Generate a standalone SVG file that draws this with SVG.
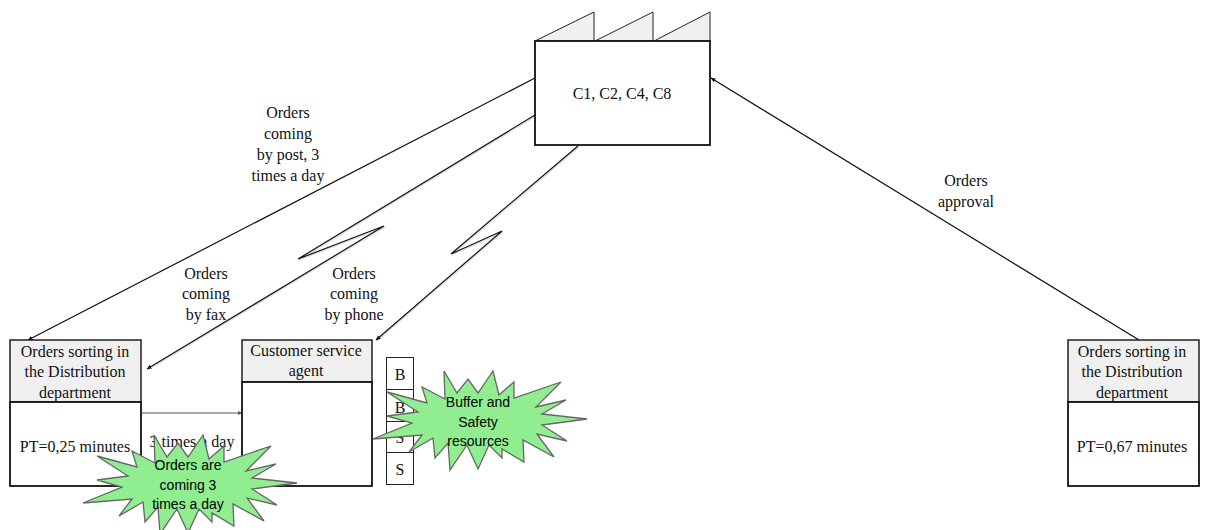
<svg xmlns="http://www.w3.org/2000/svg" width="1205" height="530" viewBox="0 0 1205 530">
<style>
text{font-family:"Liberation Serif","Times New Roman",serif;font-size:16px;fill:#111;text-anchor:middle}
.h{fill:#f0f0f0;stroke:#111;stroke-width:1.4}
.b{fill:#fff;stroke:#111;stroke-width:1.8}
.k{fill:#fff;stroke:#222;stroke-width:1}
.t{fill:#f0f0f0;stroke:#222;stroke-width:1}
.c{fill:none;stroke:#111;stroke-width:1.2;marker-end:url(#a)}
.s{fill:none;stroke:#ddd;stroke-width:1.2}
.g{fill:none;stroke:#555;stroke-width:1;marker-end:url(#a2)}
.st{fill:#90ee90;stroke:#666;stroke-width:1.3}
.n{font-family:"Liberation Sans",Arial,sans-serif;font-size:14px;fill:#000}
</style>
<defs>
<marker id="a" markerWidth="6" markerHeight="6" refX="4.500" refY="2.200" orient="auto" markerUnits="userSpaceOnUse"><path d="M0 0L4.500 2.200L0 4.400z" fill="#111"/></marker>
<marker id="a2" markerWidth="6" markerHeight="6" refX="4.500" refY="2.200" orient="auto" markerUnits="userSpaceOnUse"><path d="M0 0L4.500 2.200L0 4.400z" fill="#555"/></marker>
<polygon id="star" points="387,392 427,403 422,387 445,399 444,371 457,393 468,379 478,393 493,371 499,395 514,382 514,398 561,382 536,407 566,400 542,414 587,419 542,425 567,441 537,434 554,457 523,440 524,462 502,449 502,458 489,445 478,469 467,445 450,470 448,443 435,458 433,438 409,452 422,435 373,439 412,423 387,416 418,412"/>
</defs>
<g id="connectors">
<path class="s" d="M536 116L299 260L385 227L148 370"/>
<path class="s" d="M579 147L452 255L503 232L377 341"/>
<path class="c" d="M535 78L28 340"/>
<path class="c" d="M535 115L298 259L384 226L147 369"/>
<path class="c" d="M578 146L451 254L502 231L376 340"/>
<path class="c" d="M1139 340L711 78"/>
<path class="g" d="M142 413L242 413"/>
</g>
<g id="factory">
<path class="t" d="M535 41L594 12V41Z"/>
<path class="t" d="M595 41L653 12V41Z"/>
<path class="t" d="M654 41L710 12V41Z"/>
<rect class="b" x="535" y="41" width="175" height="104"/>
<text x="622" y="99">C1, C2, C4, C8</text>
</g>
<g id="label-post"><text x="288" y="118">Orders</text><text x="288" y="139">coming</text><text x="288" y="160">by post, 3</text><text x="288" y="181">times a day</text></g>
<g id="label-fax"><text x="206" y="279">Orders</text><text x="206" y="299">coming</text><text x="206" y="320">by fax</text></g>
<g id="label-phone"><text x="354" y="279">Orders</text><text x="354" y="299">coming</text><text x="354" y="320">by phone</text></g>
<g id="label-approval"><text x="966" y="186">Orders</text><text x="966" y="207">approval</text></g>
<g id="sorting-left">
<rect class="h" x="10" y="340" width="131" height="62"/>
<rect class="b" x="10" y="402" width="131" height="84"/>
<text x="75" y="357">Orders sorting in</text><text x="75" y="377">the Distribution</text><text x="75" y="398">department</text>
<text x="75" y="452">PT=0,25 minutes</text>
</g>
<g id="customer-service">
<rect class="h" x="242" y="340" width="130" height="42"/>
<rect class="b" x="242" y="382" width="130" height="104"/>
<text x="306" y="356">Customer service</text><text x="306" y="376">agent</text>
</g>
<g id="sorting-right">
<rect class="h" x="1068" y="340" width="131" height="62"/>
<rect class="b" x="1068" y="402" width="131" height="84"/>
<text x="1132" y="357">Orders sorting in</text><text x="1132" y="377">the Distribution</text><text x="1132" y="398">department</text>
<text x="1132" y="452">PT=0,67 minutes</text>
</g>
<g id="resources">
<rect class="k" x="386.500" y="357.500" width="27" height="32"/><text x="400" y="380">B</text>
<rect class="k" x="386.500" y="389.500" width="27" height="32"/><text x="400" y="413">B</text>
<rect class="k" x="386.500" y="421.500" width="27" height="31"/><text x="400" y="443">S</text>
<rect class="k" x="386.500" y="452.500" width="27" height="32"/><text x="400" y="475">S</text>
</g>
<text id="label-3times" x="192" y="447">3 times a day</text>
<g id="callout-orders">
<use href="#star" class="st" transform="translate(-290 64)"/>
<text class="n" x="188" y="470">Orders are</text><text class="n" x="188" y="490">coming 3</text><text class="n" x="188" y="509">times a day</text>
</g>
<g id="callout-buffer">
<use href="#star" class="st"/>
<text class="n" x="478" y="407">Buffer and</text><text class="n" x="478" y="427">Safety</text><text class="n" x="478" y="446">resources</text>
</g>
</svg>
